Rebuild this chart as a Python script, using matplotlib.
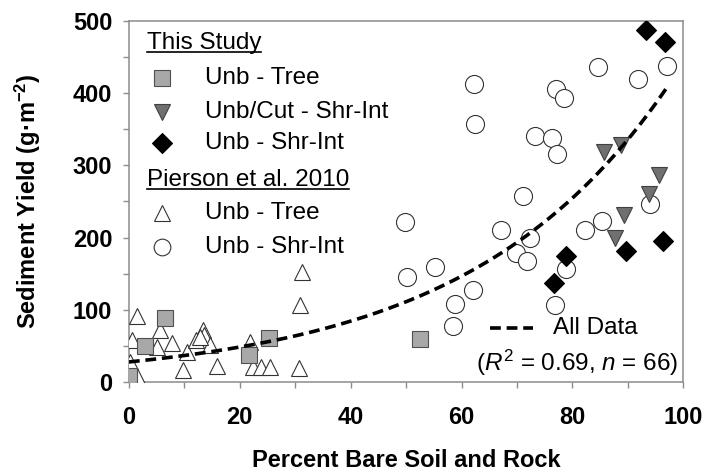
import numpy as np
import matplotlib
matplotlib.use('Agg')
import matplotlib.pyplot as plt

# Font settings (Arial look-alike)
plt.rcParams['font.family'] = ['Liberation Sans', 'DejaVu Sans']
plt.rcParams['mathtext.fontset'] = 'custom'
plt.rcParams['mathtext.rm'] = 'Liberation Sans'
plt.rcParams['mathtext.it'] = 'Liberation Sans:italic'
plt.rcParams['mathtext.bf'] = 'Liberation Sans:bold'

# This Study - Unb - Tree (squares)
tree_x = [0.1, 2.9, 6.6, 21.6, 25.2, 52.6]
tree_y = [8, 50, 89, 37, 61, 60]

# This Study - Unb/Cut - Shr-Int (down triangles)
cut_x = [85.7, 88.8, 95.7, 93.9, 89.3, 87.7]
cut_y = [319, 328, 287, 261, 231, 199]

# This Study - Unb - Shr-Int (diamonds)
shr_x = [93.3, 96.7, 78.8, 76.6, 89.7, 96.3]
shr_y = [487, 471, 175, 137, 182, 195]

# Pierson et al. 2010 - Unb - Tree (open triangles)
p_tree_x = [1.5, 0.5, 0.2, 1.4, 5.6, 7.7, 5.1, 10.4, 9.7, 13.4, 13.5, 12.1,
            14.6, 15.9, 21.8, 22.4, 23.8, 25.4, 30.6, 30.8, 31.2, 12.8]
p_tree_y = [92, 59, 28, 8, 72, 54, 48, 42, 17, 72, 65, 58,
            51, 22, 55, 21, 21, 21, 19, 107, 153, 62]

# Pierson et al. 2010 - Unb - Shr-Int (open circles)
p_shr_x = [49.8, 50.1, 55.3, 58.4, 58.8, 62.0, 62.2, 62.5, 67.1, 69.8, 71.0,
           71.9, 72.4, 73.3, 76.4, 77.3, 77.0, 78.4, 76.8, 78.8, 82.3, 85.3,
           84.6, 91.9, 94.0, 97.1]
p_shr_y = [221, 145, 160, 78, 108, 128, 412, 357, 210, 179, 257,
           167, 199, 341, 338, 316, 405, 393, 107, 156, 211, 223,
           436, 419, 246, 438]

# Exponential fit to all data, y = a * exp(b * x)
fit_a = 28.0
fit_b = 0.0276
fit_xmax = 97

fig = plt.figure(figsize=(7.2, 4.73), dpi=100)
ax = fig.add_axes([0.179, 0.192, 0.77, 0.764])

# Pierson et al. data (open markers)
ax.plot(p_tree_x, p_tree_y, ls='none', marker='^', ms=12, mfc='white',
        mec='#333333', mew=0.8, zorder=3)
ax.plot(p_shr_x, p_shr_y, ls='none', marker='o', ms=13, mfc='white',
        mec='#333333', mew=0.8, zorder=3)

# This study
ax.plot(tree_x, tree_y, ls='none', marker='s', ms=11, mfc='#a8a8a8',
        mec='#505050', mew=0.8, zorder=4)
ax.plot(cut_x, cut_y, ls='none', marker='v', ms=12, mfc='#707070',
        mec='#404040', mew=0.8, zorder=4)
ax.plot(shr_x, shr_y, ls='none', marker='D', ms=10, mfc='black',
        mec='black', mew=0.8, zorder=4)

# fit line
xf = np.linspace(0, fit_xmax, 200)
ax.plot(xf, fit_a * np.exp(fit_b * xf), color='black', lw=2.6,
        dashes=(3, 1.6), zorder=5)

# Axes styling
ax.set_xlim(0, 100)
ax.set_ylim(0, 500)
ax.set_xticks(np.arange(0, 101, 20))
ax.set_xticks(np.arange(10, 100, 20), minor=True)
ax.set_yticks(np.arange(0, 501, 100))
ax.set_yticks(np.arange(50, 500, 100), minor=True)
for s in ax.spines.values():
    s.set_color('#8c8c8c')
    s.set_linewidth(1.1)
ax.tick_params(which='both', direction='out', length=4, width=1,
               color='#8c8c8c')
ax.tick_params(axis='x', which='major', pad=13, labelsize=17)
ax.tick_params(axis='y', which='major', pad=8, labelsize=17)
for lab in ax.get_xticklabels() + ax.get_yticklabels():
    lab.set_fontweight('bold')

ax.set_xlabel('Percent Bare Soil and Rock', fontsize=17, fontweight='bold')
ax.set_ylabel(r'Sediment Yield (g·m$^{\mathbf{-2}}$)', fontsize=17,
              fontweight='bold')
ax.xaxis.set_label_coords(0.5, -0.185)
ax.yaxis.set_label_coords(-0.155, 0.5)

# Manual legend (top left)
tr = ax.transAxes
leg_fs = 17.5
headers = [('This Study', 0.939), ('Pierson et al. 2010', 0.560)]
rows = [
    ('Unb - Tree', 0.842, dict(marker='s', ms=11, mfc='#a8a8a8', mec='#505050')),
    ('Unb/Cut - Shr-Int', 0.748, dict(marker='v', ms=12, mfc='#707070', mec='#404040')),
    ('Unb - Shr-Int', 0.662, dict(marker='D', ms=10, mfc='black', mec='black')),
    ('Unb - Tree', 0.468, dict(marker='^', ms=11, mfc='white', mec='#333333')),
    ('Unb - Shr-Int', 0.374, dict(marker='o', ms=12, mfc='white', mec='#333333')),
]
head_texts = []
for txt, yy in headers:
    t = ax.text(0.0325, yy, txt, transform=tr, fontsize=leg_fs,
                va='center', ha='left')
    head_texts.append(t)
for txt, yy, mk in rows:
    ax.plot([0.0596], [yy], transform=tr, ls='none', mew=0.8, clip_on=False, **mk)
    ax.text(0.137, yy, txt, transform=tr, fontsize=leg_fs, va='center', ha='left')

# underline the group headers
fig.canvas.draw()
inv = tr.inverted()
for t in head_texts:
    bb = t.get_window_extent()
    (x0, y0), (x1, y1) = inv.transform([[bb.x0, bb.y0], [bb.x1, bb.y1]])
    ax.plot([x0, x1], [y0 + 0.005, y0 + 0.005], transform=tr, color='black',
            lw=1.2, clip_on=False)

# fit legend (bottom right)
ax.plot([0.652, 0.729], [0.150, 0.150], transform=tr, color='black', lw=2.6,
        dashes=(3, 1.6))
ax.text(0.765, 0.150, 'All Data', transform=tr, fontsize=leg_fs,
        va='center', ha='left')
ax.text(0.99, 0.053, r'($\it{R}^2$ = 0.69, $\it{n}$ = 66)', transform=tr,
        fontsize=leg_fs, va='center', ha='right')

fig.savefig('out.png', dpi=100)
